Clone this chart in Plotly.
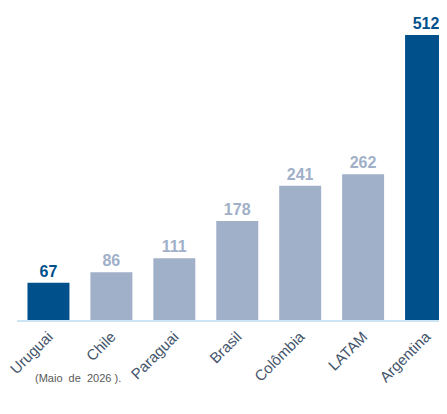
import plotly.graph_objects as go

categories = ["Uruguai", "Chile", "Paraguai", "Brasil", "Colômbia", "LATAM", "Argentina"]
values = [67, 86, 111, 178, 241, 262, 512]
highlight = [True, False, False, False, False, False, True]

DARK = "#00508c"
LIGHT = "#a0b0c8"
colors = [DARK if h else LIGHT for h in highlight]

fig = go.Figure(go.Bar(
    x=categories, y=values,
    marker=dict(color=colors, line=dict(width=0)),
    text=[str(v) for v in values],
    textposition="outside",
    textfont=dict(family="Liberation Sans, Arial", size=16, color=colors),
    texttemplate="<b>%{text}</b>",
    cliponaxis=False,
))

fig.update_layout(
    width=447, height=386,
    margin=dict(l=8.5, r=8, t=0, b=74),
    paper_bgcolor="white", plot_bgcolor="white",
    bargap=0.333,
    showlegend=False,
    xaxis=dict(
        range=[-0.5, 6.333],
        tickangle=-45,
        tickfont=dict(family="Liberation Sans, Arial", size=15, color="#44546a"),
        showline=True, linecolor="#cde4f5", linewidth=2,
        showgrid=False, ticks="",
    ),
    yaxis=dict(range=[0, 560.5], visible=False, showgrid=False, zeroline=False),
)
fig.add_annotation(
    text="(Maio  de  2026 ).",
    xref="paper", yref="paper",
    x=(25 - 8.5) / 430.5, y=-(370 - 312) / 312,
    xanchor="left", yanchor="middle",
    showarrow=False,
    font=dict(family="Liberation Sans, Arial", size=11, color="#595959"),
)

fig.write_html("out.html")
